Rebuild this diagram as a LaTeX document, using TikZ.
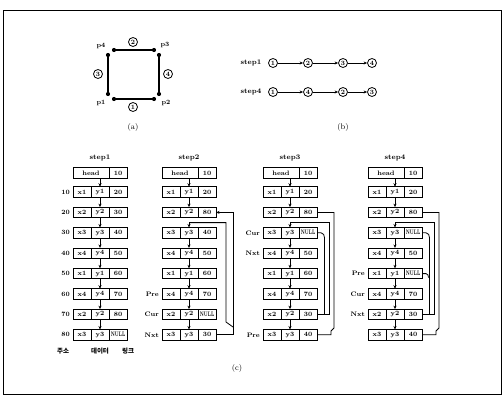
\documentclass[tikz,border=0pt]{standalone}
\usepackage{fontspec}
\usepackage{graphicx}
\newfontfamily\kr{Noto Sans CJK KR}
\usetikzlibrary{arrows.meta}
\tikzset{
  cell/.style={draw, line width=0.9pt, minimum width=18pt, minimum height=10.5pt, inner sep=0pt, outer sep=0pt, font=\fontsize{6.5}{7}\selectfont\bfseries},
  lbl/.style={font=\fontsize{6.5}{7}\selectfont\bfseries, inner sep=0pt},
  krl/.style={font=\kr\fontsize{6.5}{7}\selectfont\bfseries, inner sep=0pt},
  ttl/.style={font=\fontsize{7}{8}\selectfont\bfseries, inner sep=0pt},
  captxt/.style={font=\fontsize{8}{9}\selectfont, inner sep=0pt},
  arr/.style={-{Stealth[length=3.5pt,width=3pt]}, line width=0.8pt},
  ln/.style={line width=0.8pt},
  dot/.style={circle, fill, inner sep=0pt, minimum size=4.2pt},
  cnum/.style={circle, draw, line width=0.8pt, inner sep=0.3pt, minimum size=9pt, font=\fontsize{6.5}{7}\selectfont\bfseries}
}
\newcommand{\nl}{\scalebox{0.62}[1]{NULL}}
\newcommand{\rec}[6]{%
  \node[cell] (#1y) at (#2,#3) {#5};
  \node[cell,anchor=east] (#1x) at (#1y.west) {#4};
  \node[cell,anchor=west] (#1l) at (#1y.east) {#6};}
\newcommand{\hd}[4]{%
  \node[cell,minimum width=36pt] (#1h) at (#2-9,#3) {head};
  \node[cell,anchor=west] (#1n) at (#1h.east) {#4};}
\def\ra{192}\def\rb{212.4}\def\rc{232.8}\def\rd{253.2}
\def\re{273.6}\def\rf{294}\def\rg{314.4}\def\rh{334.8}\def\rj{222.6}
\begin{document}
\begin{tikzpicture}[x=1pt,y=-1pt]
\useasboundingbox (0,0) rectangle (504,396);
\draw[line width=0.9pt] (3,10) rectangle (501,394);

% ---------- (a)
\node[dot] (d4a) at (114,50) {};
\node[dot] (d3a) at (154,50) {};
\node[dot] (d3b) at (159,55) {};
\node[dot] (d2b) at (159,94) {};
\node[dot] (d2a) at (154,99) {};
\node[dot] (d1a) at (114,99) {};
\node[dot] (d1b) at (108,94) {};
\node[dot] (d4b) at (108,55) {};
\draw[line width=1.1pt] (d4a) -- (d3a);
\draw[line width=1.1pt] (d3b) -- (d2b);
\draw[line width=1.1pt] (d1a) -- (d2a);
\draw[line width=1.1pt] (d4b) -- (d1b);
\node[lbl] (p4) at (101,46) {p4};
\node[lbl] (p3) at (165,45) {p3};
\node[lbl] (p1) at (101,103) {p1};
\node[lbl] (p2) at (166,103) {p2};
\node[cnum] (e2) at (133,42) {2};
\node[cnum] (e3) at (98,74) {3};
\node[cnum] (e4) at (168,74) {4};
\node[cnum] (e1) at (133,107) {1};
\node[captxt] (capa) at (133,127) {(a)};

% ---------- (b)
\node[ttl] (bs1) at (251,63) {step1};
\node[ttl] (bs4) at (251,92) {step4};
\node[cnum] (b11) at (273,63) {1};
\node[cnum] (b12) at (308,63) {2};
\node[cnum] (b13) at (343,63) {3};
\node[cnum] (b14) at (372,63) {4};
\draw[arr] (b11) -- (b12);
\draw[arr] (b12) -- (b13);
\draw[arr] (b13) -- (b14);
\node[cnum] (b41) at (273,92) {1};
\node[cnum] (b42) at (308,92) {4};
\node[cnum] (b43) at (343,92) {2};
\node[cnum] (b44) at (372,92) {3};
\draw[arr] (b41) -- (b42);
\draw[arr] (b42) -- (b43);
\draw[arr] (b43) -- (b44);
\node[captxt] (capb) at (343,127) {(b)};

% ---------- (c) step1
\node[ttl] (t1) at (100,158) {step1};
\hd{a0}{100}{173}{10}
\rec{a1}{100}{\ra}{x1}{y1}{20}
\rec{a2}{100}{\rb}{x2}{y2}{30}
\rec{a3}{100}{\rc}{x3}{y3}{40}
\rec{a4}{100}{\rd}{x4}{y4}{50}
\rec{a5}{100}{\re}{x1}{y1}{60}
\rec{a6}{100}{\rf}{x4}{y4}{70}
\rec{a7}{100}{\rg}{x2}{y2}{80}
\rec{a8}{100}{\rh}{x3}{y3}{\nl}
\foreach \i/\v in {1/10,2/20,3/30,4/40,5/50,6/60,7/70,8/80}
  \node[lbl,anchor=east] (ad\i) at ([xshift=-3pt]a\i x.west) {\v};
\draw[arr] (a1y.north |- a0h.south) -- (a1y.north);
\foreach \i [evaluate=\i as \j using int(\i+1)] in {1,...,7}
  \draw[arr] (a\i y.south) -- (a\j y.north);
\node[krl] (k1) at (63,351) {주소};
\node[krl] (k2) at (100,351) {데이터};
\node[krl] (k3) at (128,351) {링크};

% ---------- step2
\node[ttl] (t2) at (189,158) {step2};
\hd{b0}{189}{173}{10}
\rec{b1}{189}{\ra}{x1}{y1}{20}
\rec{b2}{189}{\rb}{x2}{y2}{80}
\rec{b3}{189}{\rc}{x3}{y3}{40}
\rec{b4}{189}{\rd}{x4}{y4}{50}
\rec{b5}{189}{\re}{x1}{y1}{60}
\rec{b6}{189}{\rf}{x4}{y4}{70}
\rec{b7}{189}{\rg}{x2}{y2}{\nl}
\rec{b8}{189}{\rh}{x3}{y3}{30}
\node[lbl,anchor=east] (bpre) at ([xshift=-3pt]b6x.west) {Pre};
\node[lbl,anchor=east] (bcur) at ([xshift=-3pt]b7x.west) {Cur};
\node[lbl,anchor=east] (bnxt) at ([xshift=-3pt]b8x.west) {Nxt};
\draw[arr] (b1y.north |- b0h.south) -- (b1y.north);
\draw[arr] (b1y.south) -- (b2y.north);
\foreach \i [evaluate=\i as \j using int(\i+1)] in {3,...,7}
  \draw[arr] (b\i y.south) -- (b\j y.north);
\coordinate (bj) at (189,\rj);
\draw[arr] (bj) -- (b3y.north);
\draw[ln] (bj) -- (226,\rj) -- (226,322) -- (233,327);
\draw[arr] (b8l.east) -- (233,\rh) -- (233,\rb) -- (b2l.east);

% ---------- step3
\node[ttl] (t3) at (290,158) {step3};
\hd{c0}{290}{173}{10}
\rec{c1}{290}{\ra}{x1}{y1}{20}
\rec{c2}{290}{\rb}{x2}{y2}{80}
\rec{c3}{290}{\rc}{x3}{y3}{\nl}
\rec{c4}{290}{\rd}{x4}{y4}{50}
\rec{c5}{290}{\re}{x1}{y1}{60}
\rec{c6}{290}{\rf}{x4}{y4}{70}
\rec{c7}{290}{\rg}{x2}{y2}{30}
\rec{c8}{290}{\rh}{x3}{y3}{40}
\node[lbl,anchor=east] (ccur) at ([xshift=-3pt]c3x.west) {Cur};
\node[lbl,anchor=east] (cnxt) at ([xshift=-3pt]c4x.west) {Nxt};
\node[lbl,anchor=east] (cpre) at ([xshift=-3pt]c8x.west) {Pre};
\draw[arr] (c1y.north |- c0h.south) -- (c1y.north);
\draw[arr] (c1y.south) -- (c2y.north);
\foreach \i [evaluate=\i as \j using int(\i+1)] in {3,...,7}
  \draw[arr] (c\i y.south) -- (c\j y.north);
\coordinate (cj) at (290,\rj);
\draw[arr] (cj) -- (c3y.north);
\draw[ln] (cj) -- (329,\rj) -- (329,\rg) -- (c7l.east);
\draw[ln] (c2l.east) -- (334,\rb) -- (334,328) -- (331,331) -- (331,\rh) -- (c8l.east);
\draw[ln] (c3l.east) -- (321,\rc) to[out=0,in=90] (324.5,\rc+5) -- (324.5,\rg);

% ---------- step4
\node[ttl] (t4) at (395,158) {step4};
\hd{d0}{395}{173}{10}
\rec{d1}{395}{\ra}{x1}{y1}{20}
\rec{d2}{395}{\rb}{x2}{y2}{80}
\rec{d3}{395}{\rc}{x3}{y3}{\nl}
\rec{d4}{395}{\rd}{x4}{y4}{50}
\rec{d5}{395}{\re}{x1}{y1}{\nl}
\rec{d6}{395}{\rf}{x4}{y4}{70}
\rec{d7}{395}{\rg}{x2}{y2}{30}
\rec{d8}{395}{\rh}{x3}{y3}{40}
\node[lbl,anchor=east] (dpre) at ([xshift=-3pt]d5x.west) {Pre};
\node[lbl,anchor=east] (dcur) at ([xshift=-3pt]d6x.west) {Cur};
\node[lbl,anchor=east] (dnxt) at ([xshift=-3pt]d7x.west) {Nxt};
\draw[arr] (d1y.north |- d0h.south) -- (d1y.north);
\draw[arr] (d1y.south) -- (d2y.north);
\foreach \i [evaluate=\i as \j using int(\i+1)] in {3,...,7}
  \draw[arr] (d\i y.south) -- (d\j y.north);
\coordinate (dj) at (395,\rj);
\draw[arr] (dj) -- (d3y.north);
\draw[ln] (dj) -- (434,\rj) -- (434,\rg) -- (d7l.east);
\draw[ln] (d2l.east) -- (439,\rb) -- (439,328) -- (436,331) -- (436,\rh) -- (d8l.east);
\draw[ln] (d3l.east) -- (426,\rc) to[out=0,in=90] (429.5,\rc+5) -- (429.5,\rg);
\draw[ln] (d5l.east) -- (426,\re) to[out=0,in=90] (428.5,\re+4);

\node[captxt] (capc) at (237,368) {(c)};
\end{tikzpicture}
\end{document}
